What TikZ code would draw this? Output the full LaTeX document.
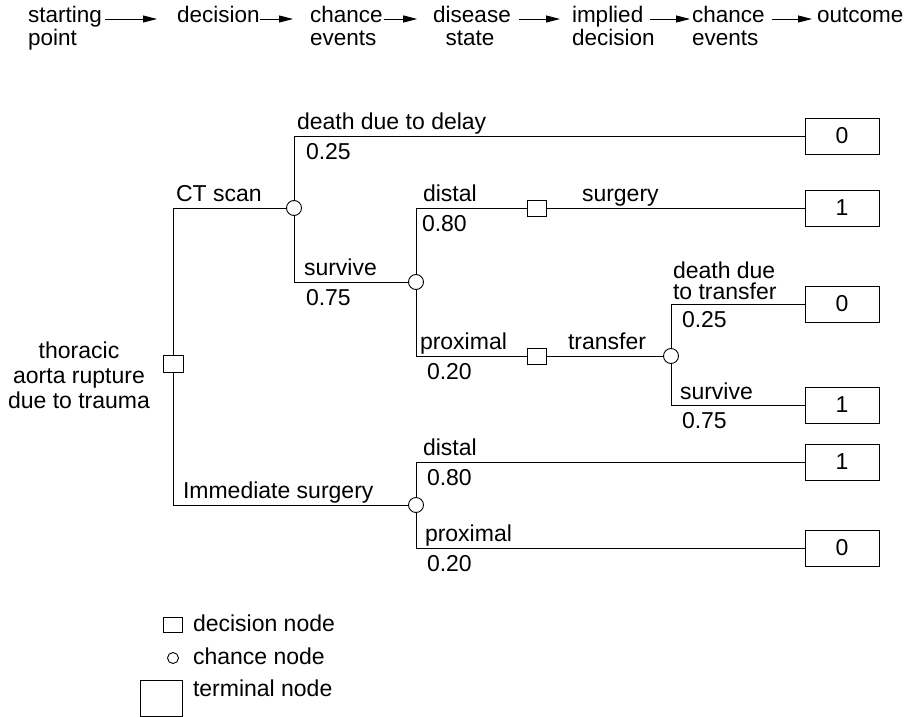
\documentclass[tikz,border=0pt]{standalone}
\usepackage{fontspec}
\setmainfont{Liberation Sans}
\usetikzlibrary{arrows.meta}
\begin{document}
\begin{tikzpicture}[x=1pt,y=-1pt,
  every node/.style={inner sep=0pt, outer sep=0pt},
  txt/.style={font=\fontsize{23}{24}\selectfont},
  hd/.style={font=\fontsize{22.5}{23}\selectfont, text height=14pt, text depth=6pt},
  lab/.style={txt, anchor=base west},
  decbox/.style={draw, line width=0.9pt, minimum width=19pt, minimum height=16pt},
  chnode/.style={draw, circle, line width=0.9pt, minimum size=15pt},
  termbox/.style={draw, line width=0.9pt, minimum width=74pt, minimum height=36pt, txt},
  branch/.style={line width=0.9pt},
  flow/.style={line width=0.9pt, -{Triangle[length=14pt,width=7pt]}},
]
\useasboundingbox (0,0) rectangle (916,717);

% ---- header: stages of the decision tree ----
\node[hd, anchor=base west] (hA)  at (28,23)  {starting};
\node[hd, anchor=base west] (hA2) at (28,46)  {point};
\node[hd, anchor=base west] (hB)  at (177,23) {decision};
\node[hd, anchor=base west] (hC)  at (310,23) {chance};
\node[hd, anchor=base west] (hC2) at (310,46) {events};
\node[hd, anchor=base]      (hD)  at (472,23) {disease};
\node[hd, anchor=base]      (hD2) at (470,46) {state};
\node[hd, anchor=base west] (hE)  at (572,23) {implied};
\node[hd, anchor=base west] (hE2) at (572,46) {decision};
\node[hd, anchor=base west] (hF)  at (692,23) {chance};
\node[hd, anchor=base west] (hF2) at (692,46) {events};
\node[hd, anchor=base west] (hG)  at (817,23) {outcome};

\draw[flow, shorten <=3pt, shorten >=20pt] (hA.east) -- (hB.west);
\draw[flow, shorten <=0pt, shorten >=17pt] (hB.east) -- (hC.west);
\draw[flow, shorten <=1pt, shorten >=16pt] (hC.east) -- (hD.west);
\draw[flow, shorten <=8pt, shorten >=12pt] (hD.east) -- (hE.west);
\draw[flow, shorten <=7pt, shorten >=2pt]  (hE.east) -- (hF.west);
\draw[flow, shorten <=7pt, shorten >=5pt]  (hF.east) -- (hG.west);

% ---- tree nodes ----
\node[decbox, minimum width=20pt, minimum height=17pt] (root) at (173,364) {};
\node[txt, font=\fontsize{23}{25}\selectfont, align=center, anchor=north] (rootlab) at (79,341.5)
  {thoracic\\aorta rupture\\due to trauma};

\node[chnode] (cA) at (294,208) {};
\node[chnode] (cB) at (416,282) {};
\node[decbox] (dU) at (537,208) {};
\node[decbox] (dL) at (537,356) {};
\node[chnode] (cC) at (671,356) {};
\node[chnode] (cD) at (416,505) {};

\node[termbox] (t1) at (842,136) {0};
\node[termbox] (t2) at (842,208) {1};
\node[termbox] (t3) at (842,304) {0};
\node[termbox] (t4) at (842,405) {1};
\node[termbox] (t5) at (842,462) {1};
\node[termbox] (t6) at (842,548) {0};

% ---- branches ----
\draw[branch] (root.north) |- (cA.west);
\draw[branch] (root.south) |- (cD.west);
\draw[branch] (cA.north) |- (t1.west);
\draw[branch] (cA.south) |- (cB.west);
\draw[branch] (cB.north) |- (dU.west);
\draw[branch] (cB.south) |- (dL.west);
\draw[branch] (dU.east) -- (t2.west);
\draw[branch] (dL.east) -- (cC.west);
\draw[branch] (cC.north) |- (t3.west);
\draw[branch] (cC.south) |- (t4.west);
\draw[branch] (cD.north) |- (t5.west);
\draw[branch] (cD.south) |- (t6.west);

% ---- branch labels and probabilities ----
\node[lab] (lCT)    at (176,201) {CT scan};
\node[lab] (lDelay) at (297,129) {death due to delay};
\node[lab] (pDelay) at (306,159) {0.25};
\node[lab] (lSurv)  at (304,275) {survive};
\node[lab] (pSurv)  at (306,305) {0.75};
\node[lab] (lDist)  at (423,201) {distal};
\node[lab] (pDist)  at (422,231) {0.80};
\node[lab] (lSurg)  at (582,201) {surgery};
\node[lab] (lProx)  at (420,349) {proximal};
\node[lab] (pProx)  at (427,379) {0.20};
\node[lab] (lTrans) at (568,349) {transfer};
\node[txt, font=\fontsize{23}{21}\selectfont, align=left, anchor=north west] (lTd) at (673,261.5)
  {death due\\to transfer};
\node[lab] (pTd)    at (682,327) {0.25};
\node[lab] (lTs)    at (680,399) {survive};
\node[lab] (pTs)    at (682,428) {0.75};
\node[lab] (lImm)   at (183,498) {Immediate surgery};
\node[lab] (lDist2) at (423,455) {distal};
\node[lab] (pDist2) at (427,485) {0.80};
\node[lab] (lProx2) at (425,541) {proximal};
\node[lab] (pProx2) at (427,571) {0.20};

% ---- legend ----
\node[decbox, minimum width=19pt, minimum height=15pt] (kD) at (173,625) {};
\node[lab] (kDl) at (193,631) {decision node};
\node[chnode, minimum size=11pt] (kC) at (173,658) {};
\node[lab] (kCl) at (193,664) {chance node};
\node[draw, line width=0.9pt, minimum width=42pt, minimum height=36pt] (kT) at (161,698) {};
\node[lab] (kTl) at (193,696) {terminal node};
\end{tikzpicture}
\end{document}
